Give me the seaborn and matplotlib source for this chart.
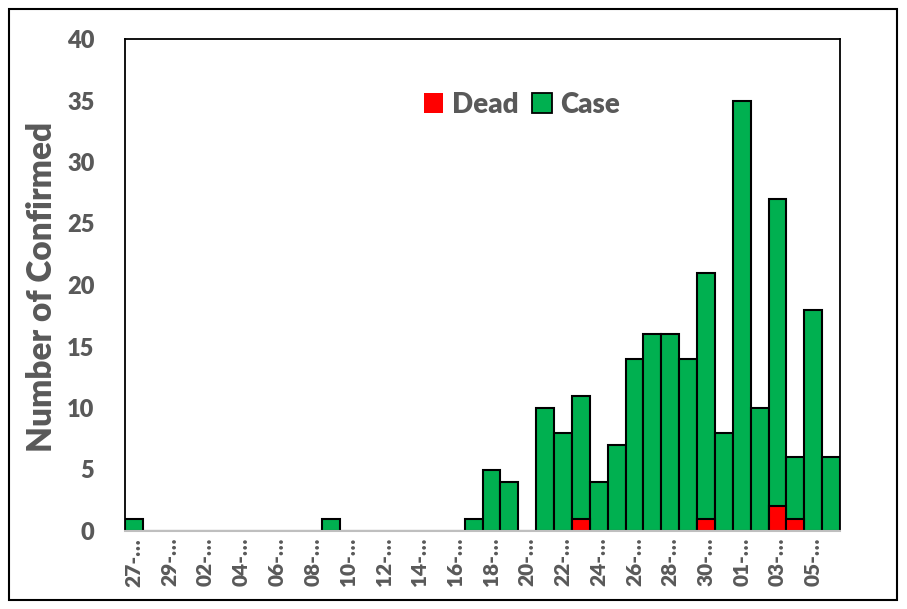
import pandas as pd
import numpy as np
import matplotlib.pyplot as plt
import seaborn as sns
from matplotlib.patches import Patch, Rectangle

# Daily counts, 27-Feb to 06-Apr (one bar per day)
dates = pd.date_range("2020-02-27", "2020-04-06", freq="D")
day_labels = [d.strftime("%d-%b") for d in dates]
confirmed = [1, 0, 0, 0, 0, 0, 0, 0, 0, 0,
             0, 1, 0, 0, 0, 0, 0, 0, 0, 1,
             5, 4, 0, 10, 8, 11, 4, 7, 14, 16,
             16, 14, 21, 8, 35, 10, 27, 6, 18, 6]
dead = [0, 0, 0, 0, 0, 0, 0, 0, 0, 0,
        0, 0, 0, 0, 0, 0, 0, 0, 0, 0,
        0, 0, 0, 0, 0, 1, 0, 0, 0, 0,
        0, 0, 1, 0, 0, 0, 2, 1, 0, 0]

df = pd.DataFrame({"day": day_labels, "confirmed": confirmed, "dead": dead})

sns.set_style("white")
plt.rcParams['font.family'] = ['Lato', 'DejaVu Sans']
plt.rcParams['font.weight'] = 'heavy'

grey = "#595959"
green = "#00B050"
red = "#FF0000"

fig = plt.figure(figsize=(9.07, 6.09), dpi=100)
ax = fig.add_axes([125 / 907, 78 / 609, 715 / 907, 492 / 609])

# total confirmed first, dead drawn over the base of each bar
sns.barplot(data=df, x="day", y="confirmed", order=day_labels, color=green,
            saturation=1, width=1.0, edgecolor="black", linewidth=1.5, ax=ax)
sns.barplot(data=df[df["dead"] > 0], x="day", y="dead", order=day_labels, color=red,
            saturation=1, width=1.0, edgecolor="black", linewidth=1.5, ax=ax)

ax.set_xlim(-0.5, len(day_labels) - 0.5)
ax.set_ylim(0, 40)
ax.set_yticks(np.arange(0, 41, 5))
ax.set_xticks(range(0, len(day_labels), 2))
ax.set_xticklabels([lbl[:3] + "\u2026" for lbl in day_labels[::2]], rotation=90)
ax.tick_params(axis="both", length=0, colors=grey)
ax.tick_params(axis="y", labelsize=17, pad=22)
ax.tick_params(axis="x", labelsize=15, pad=5)
for t in ax.get_xticklabels() + ax.get_yticklabels():
    t.set_fontweight("heavy")

ax.set_xlabel("")
ax.set_ylabel("")
for side in ["left", "top", "right"]:
    ax.spines[side].set_color("black")
    ax.spines[side].set_linewidth(1.3)
ax.spines["bottom"].set_color("#BFBFBF")
ax.spines["bottom"].set_linewidth(1.5)

fig.text(42 / 907, 1 - 287 / 609, "Number of Confirmed", rotation=90,
         ha="center", va="center", fontsize=24, fontweight="heavy", color=grey)

handles = [Patch(facecolor=red, edgecolor="none", label="Dead"),
           Patch(facecolor=green, edgecolor="black", linewidth=1.3, label="Case")]
ax.legend(handles=handles, loc="center", bbox_to_anchor=(0.555, 0.866), ncol=2,
          frameon=False, handlelength=0.7, handleheight=0.7, handletextpad=0.3,
          columnspacing=0.5, prop={"size": 20, "weight": "heavy"}, labelcolor=grey)

# outer chart border
fig.patches.append(Rectangle((9 / 907, 9 / 609), 888 / 907, 591 / 609, transform=fig.transFigure,
                             fill=False, edgecolor="black", linewidth=1.5))

fig.savefig("out.png", dpi=100)
